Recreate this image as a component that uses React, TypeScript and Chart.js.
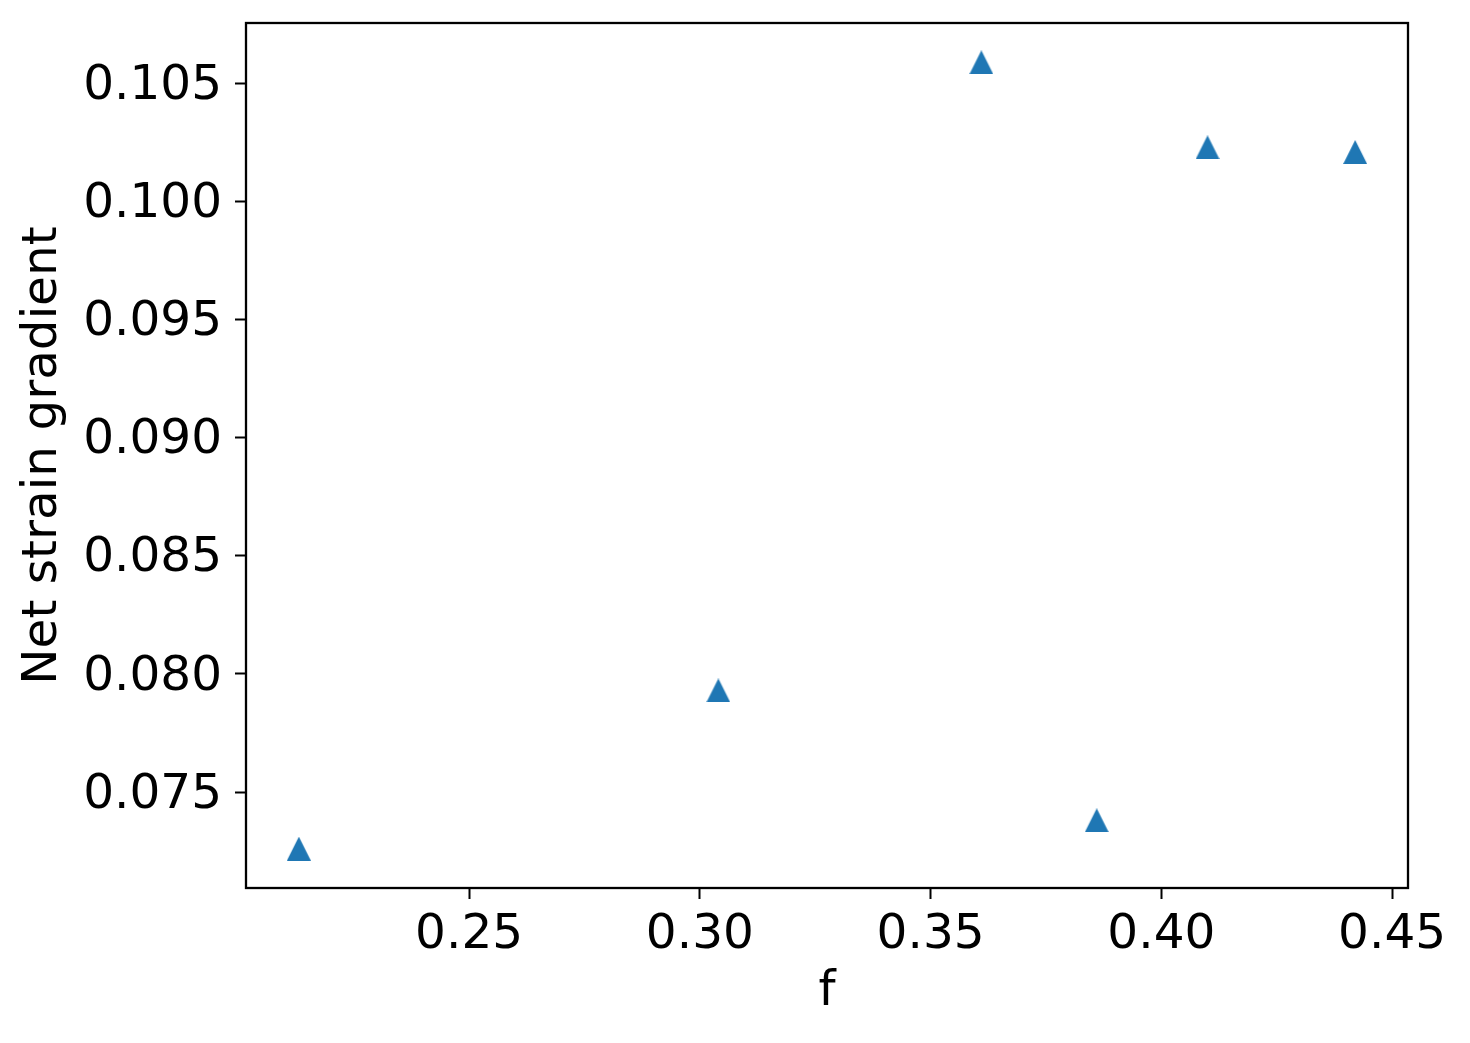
import React, { useEffect, useRef } from "react";
import { Chart, registerables } from "chart.js";

Chart.register(...registerables);

// Data
const fValues = [0.2131, 0.304, 0.361, 0.386, 0.41, 0.442];
const strainGradient = [0.0726, 0.0793, 0.1059, 0.0738, 0.1023, 0.1021];

// Tick labels
const xTicks = [0.25, 0.3, 0.35, 0.4, 0.45];
const yTicks = [0.075, 0.08, 0.085, 0.09, 0.095, 0.1, 0.105];

const xLabel = "f";
const yLabel = "Net strain gradient";

const FONT = "'DejaVu Sans', 'Liberation Sans', sans-serif";
const FONT_SIZE = 48.5;
const BLUE = "#1f77b4";

function limits(values: number[]) {
  const lo = Math.min(...values);
  const hi = Math.max(...values);
  const m = (hi - lo) * 0.05;
  return [lo - m, hi + m];
}

export default function App() {
  const ref = useRef<HTMLCanvasElement | null>(null);

  useEffect(() => {
    if (!ref.current) return;
    document.body.style.margin = "0";

    const size = 24;
    const tri = document.createElement("canvas");
    tri.width = size;
    tri.height = size;
    const g = tri.getContext("2d")!;
    g.fillStyle = BLUE;
    g.beginPath();
    g.moveTo(size / 2, 0);
    g.lineTo(size, size);
    g.lineTo(0, size);
    g.closePath();
    g.fill();

    const [xMin, xMax] = limits(fValues);
    const [yMin, yMax] = limits(strainGradient);

    const frame = {
      id: "frame",
      afterDraw(chart: any) {
        const { ctx, chartArea } = chart;
        ctx.save();
        ctx.strokeStyle = "#000";
        ctx.lineWidth = 2.3;
        ctx.strokeRect(
          chartArea.left,
          chartArea.top,
          chartArea.right - chartArea.left,
          chartArea.bottom - chartArea.top
        );
        ctx.restore();
      },
    };

    const font = { family: FONT, size: FONT_SIZE, lineHeight: 1 };

    const chart = new Chart(ref.current, {
      type: "scatter",
      data: {
        datasets: [
          {
            data: fValues.map((x, i) => ({ x, y: strainGradient[i] })),
            pointStyle: tri as any,
            backgroundColor: BLUE,
            borderColor: BLUE,
            pointRadius: 12,
          },
        ],
      },
      options: {
        animation: false,
        responsive: false,
        events: [],
        layout: { padding: { top: 23, right: 62, left: 0, bottom: 0 } },
        plugins: {
          legend: { display: false },
          tooltip: { enabled: false },
        },
        scales: {
          x: {
            type: "linear",
            position: "bottom",
            min: xMin,
            max: xMax,
            afterBuildTicks: (s: any) => {
              s.ticks = xTicks.map((v) => ({ value: v }));
            },
            afterFit: (s: any) => {
              s.height = 155;
              s.paddingLeft = 0;
              s.paddingRight = 0;
            },
            ticks: {
              font,
              color: "#000",
              padding: 12,
              maxRotation: 0,
              autoSkip: false,
              callback: (v: any) => Number(v).toFixed(2),
            },
            grid: {
              drawOnChartArea: false,
              drawTicks: true,
              tickLength: 11,
              tickWidth: 2,
              tickColor: "#000",
              color: "#000",
            },
            border: { display: false },
            title: {
              display: true,
              text: xLabel,
              font,
              color: "#000",
              padding: { top: 0, bottom: 26 },
            },
          },
          y: {
            type: "linear",
            position: "left",
            min: yMin,
            max: yMax,
            afterBuildTicks: (s: any) => {
              s.ticks = yTicks.map((v) => ({ value: v }));
            },
            afterFit: (s: any) => {
              s.width = 246;
              s.paddingTop = 0;
              s.paddingBottom = 0;
            },
            ticks: {
              font,
              color: "#000",
              padding: 13,
              labelOffset: 3,
              autoSkip: false,
              callback: (v: any) => Number(v).toFixed(3),
            },
            grid: {
              drawOnChartArea: false,
              drawTicks: true,
              tickLength: 11,
              tickWidth: 2,
              tickColor: "#000",
              color: "#000",
            },
            border: { display: false },
            title: {
              display: true,
              text: yLabel,
              font,
              color: "#000",
              padding: { top: 19, bottom: 0 },
            },
          },
        },
      },
      plugins: [frame],
    });

    return () => chart.destroy();
  }, []);

  return (
    <div style={{ position: "absolute", left: 0, top: 0, width: 1470, height: 1043, background: "#fff" }}>
      <canvas ref={ref} width={1470} height={1043} style={{ width: 1470, height: 1043 }} />
    </div>
  );
}
